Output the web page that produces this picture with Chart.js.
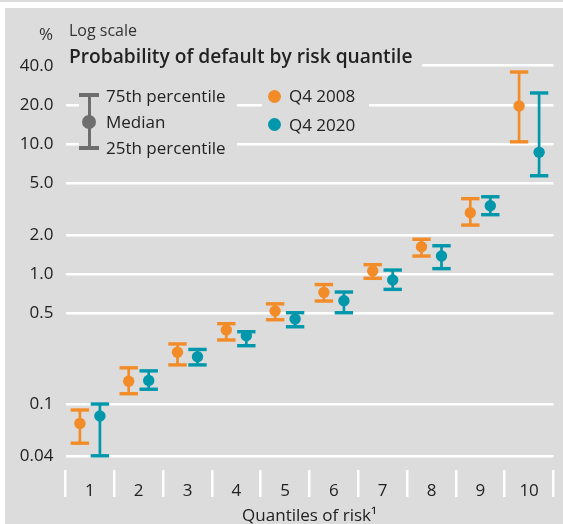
<!DOCTYPE html>
<html>
<head>
<meta charset="utf-8">
<script src="https://cdn.jsdelivr.net/npm/chart.js@4.4.1/dist/chart.umd.min.js"></script>
<style>
body{margin:0;width:563px;height:524px;overflow:hidden;position:relative;background:#fff;font-family:"Open Sans",sans-serif;color:#222;}
#franja{position:absolute;left:0;top:0;width:563px;height:2px;background:#dcdcdc;}
#panel{position:absolute;left:5px;top:8px;width:558px;height:516px;background:#dcdcdc;}
#grafico{position:absolute;left:0;top:0;}
.caja{position:absolute;background:#dcdcdc;}
.texto{position:absolute;line-height:1;white-space:nowrap;}
.gris{position:absolute;background:#6e6e6e;}
.punto{position:absolute;border-radius:50%;}
</style>
</head>
<body>
<div id="franja"></div>
<div id="panel"></div>
<canvas id="grafico" width="563" height="524"></canvas>

<!-- cabecera -->
<div class="texto" style="right:510px;top:25px;font-size:17px;color:#333;">%</div>
<div class="texto" style="left:69px;top:22px;font-size:16px;color:#333;">Log scale</div>
<div class="caja" style="left:65px;top:44px;width:357px;height:26px;"></div>
<div class="texto" style="left:69px;top:46px;font-size:19.2px;font-weight:600;">Probability of default by risk quantile</div>

<!-- leyenda -->
<div class="caja" style="left:79px;top:84px;width:158px;height:76px;"></div>
<div class="gris" style="left:88px;top:95px;width:3px;height:53px;"></div>
<div class="gris" style="left:79px;top:93px;width:20px;height:4px;"></div>
<div class="gris" style="left:79px;top:146px;width:20px;height:4px;"></div>
<div class="punto" style="left:82px;top:115px;width:14px;height:14px;background:#6e6e6e;"></div>
<div class="texto" style="left:106px;top:87px;font-size:17px;">75th percentile</div>
<div class="texto" style="left:106px;top:113px;font-size:17px;">Median</div>
<div class="texto" style="left:106px;top:139px;font-size:17px;">25th percentile</div>

<div class="caja" style="left:262px;top:86px;width:107px;height:48px;"></div>
<div class="punto" style="left:268px;top:90px;width:13px;height:13px;background:#f28c28;"></div>
<div class="punto" style="left:268px;top:118px;width:13px;height:13px;background:#0397ab;"></div>
<div class="texto" style="left:289px;top:87px;font-size:17px;">Q4 2008</div>
<div class="texto" style="left:289px;top:116px;font-size:17px;">Q4 2020</div>

<script>

const categorias =
["1","2","3","4","5","6","7","8","9","10"];

// Q4 2008
const p75_2008 =
[0.090, 0.19, 0.29, 0.415, 0.59, 0.83, 1.18, 1.85, 3.80, 35.8];

const mediana_2008 =
[0.071, 0.150, 0.250, 0.371, 0.519, 0.723, 1.055, 1.62, 2.96, 19.6];

const p25_2008 =
[0.050, 0.120, 0.200, 0.311, 0.445, 0.620, 0.927, 1.375, 2.38, 10.4];

// Q4 2020
const p75_2020 =
[0.100, 0.180, 0.263, 0.360, 0.504, 0.727, 1.073, 1.65, 3.93, 24.7];

const mediana_2020 =
[0.081, 0.152, 0.231, 0.335, 0.451, 0.624, 0.900, 1.375, 3.35, 8.63];

const p25_2020 =
[0.040, 0.130, 0.200, 0.281, 0.393, 0.504, 0.762, 1.10, 2.86, 5.70];

const valoresY =
[0.04, 0.1, 0.5, 1, 2, 5, 10, 20, 40];

const etiquetasY =
["0.04", "0.1", "0.5", "1.0", "2.0", "5.0", "10.0", "20.0", "40.0"];

const limiteInferior = 0.0311;
const limiteSuperior = 63.1;

const naranja = "#f28c28";
const turquesa = "#0397ab";
const fuente = "'Open Sans', sans-serif";

const medianas = [mediana_2008, mediana_2020];

// tapas del bigote y punto de la mediana, sobre cada barra flotante
const bigotes = {

    id: "bigotes",

    afterDatasetsDraw(chart){

        const ctx = chart.ctx;
        const escalaY = chart.scales.y;

        chart.data.datasets.forEach((serie, d) => {

            const meta = chart.getDatasetMeta(d);

            meta.data.forEach((barra, i) => {

                const x = barra.x;

                ctx.save();
                ctx.fillStyle = serie.backgroundColor;

                serie.data[i].forEach(v => {
                    const py = escalaY.getPixelForValue(v);
                    ctx.fillRect(x - 9.2, py - 1.7, 18.4, 3.4);
                });

                ctx.beginPath();
                ctx.arc(
                    x,
                    escalaY.getPixelForValue(medianas[d][i]),
                    5.7, 0, Math.PI * 2
                );
                ctx.fill();
                ctx.restore();

            });

        });

    }

};

function dibujarGrafico(){

    new Chart(

        document.getElementById("grafico"),

        {

            type:"bar",

            data:{

                labels:categorias,

                datasets:[
                    {
                        label:"Q4 2008",
                        data:p25_2008.map((v, i) => [v, p75_2008[i]]),
                        backgroundColor:naranja
                    },
                    {
                        label:"Q4 2020",
                        data:p25_2020.map((v, i) => [v, p75_2020[i]]),
                        backgroundColor:turquesa
                    }
                ]

            },

            options:{

                responsive:false,
                animation:false,

                layout:{
                    padding:{ top:40, right:9.5, bottom:0, left:0 }
                },

                datasets:{
                    bar:{
                        categoryPercentage:0.82,
                        barPercentage:0.135,
                        borderWidth:0
                    }
                },

                plugins:{
                    legend:{ display:false },
                    tooltip:{ enabled:false }
                },

                scales:{

                    x:{
                        grid:{
                            offset:true,
                            drawOnChartArea:false,
                            drawTicks:true,
                            tickLength:27,
                            color:"#ffffff",
                            lineWidth:2.5
                        },
                        border:{ display:false },
                        ticks:{
                            padding:-16,
                            color:"#222",
                            font:{ family:fuente, size:17 }
                        },
                        title:{
                            display:true,
                            text:"Quantiles of risk¹",
                            color:"#222",
                            padding:{ top:0, bottom:-2 },
                            font:{ family:fuente, size:17 }
                        },
                        afterFit(escala){
                            escala.height = 54;
                        }
                    },

                    y:{
                        type:"logarithmic",
                        min:limiteInferior,
                        max:limiteSuperior,
                        bounds:"data",
                        grid:{
                            color:"#ffffff",
                            lineWidth:2.5,
                            drawTicks:false
                        },
                        border:{ display:false },
                        ticks:{
                            padding:12,
                            autoSkip:false,
                            color:"#222",
                            font:{ family:fuente, size:17 },
                            callback:(v, i) => etiquetasY[i]
                        },
                        afterBuildTicks(escala){
                            escala.ticks = valoresY.map(v => ({ value:v }));
                        },
                        afterFit(escala){
                            escala.width = 65.5;
                        }
                    }

                }

            },

            plugins:[bigotes]

        }

    );

}

window.onload = () => {

    dibujarGrafico();

};

</script>
</body>
</html>
